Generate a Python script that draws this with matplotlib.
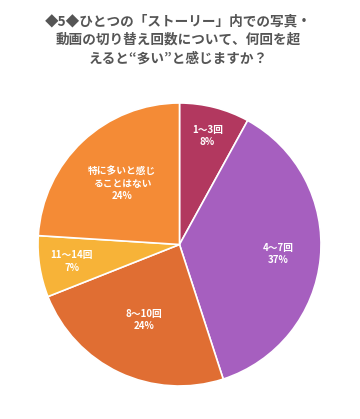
"""Pie chart: how many photo/video switches in one story feel like 'too many'."""

import numpy as np
import matplotlib
matplotlib.use("Agg")
import matplotlib.pyplot as plt

plt.rcParams["font.family"] = ["Noto Sans CJK JP", "DejaVu Sans"]

# data
categories = ["1〜3回", "4〜7回", "8〜10回", "11〜14回", "特に多いと感じ\nることはない"]
shares = [8, 37, 24, 7, 24]
colors = ["#B2385F", "#A65FBF", "#E06E33", "#F7B338", "#F48B36"]
label_radius = [0.79, 0.70, 0.59, 0.77, 0.59]

title = "◆5◆ひとつの「ストーリー」内での写真・\n動画の切り替え回数について、何回を超\nえると“多い”と感じますか？"

fig = plt.figure(figsize=(3.6, 4.19), dpi=100)
ax = fig.add_axes([38 / 360, 33 / 419, 283 / 360, 283 / 419])

wedges, _ = ax.pie(
    shares,
    colors=colors,
    startangle=90,
    counterclock=False,
    radius=1.0,
    wedgeprops=dict(edgecolor="white", linewidth=1.2),
)

for w, cat, val, r in zip(wedges, categories, shares, label_radius):
    mid = np.deg2rad((w.theta1 + w.theta2) / 2)
    ax.text(r * np.cos(mid), r * np.sin(mid), f"{cat}\n{val}%",
            ha="center", va="center", color="white", fontsize=7,
            fontweight="bold", linespacing=1.3)

ax.set_xlim(-1, 1)
ax.set_ylim(-1, 1)
ax.set_aspect("equal")
ax.set_axis_off()

fig.text(0.495, 0.965, title, ha="center", va="top", fontsize=9.8,
         fontweight="bold", color="#555555", linespacing=1.4)

fig.savefig("out.png", dpi=100)
plt.close(fig)
